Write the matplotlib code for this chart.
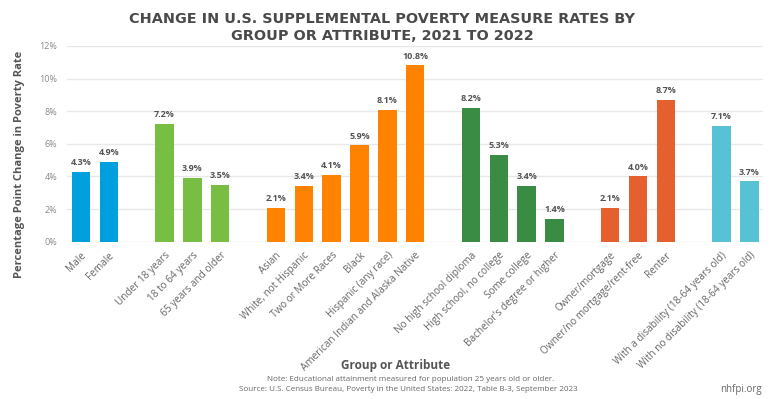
import matplotlib
matplotlib.use("Agg")
import matplotlib.pyplot as plt

categories = ["Male", "Female",
              "Under 18 years", "18 to 64 years", "65 years and older",
              "Asian", "White, not Hispanic", "Two or More Races", "Black",
              "Hispanic (any race)", "American Indian and Alaska Native",
              "No high school diploma", "High school, no college", "Some college",
              "Bachelor's degree or higher",
              "Owner/mortgage", "Owner/no mortgage/rent-free", "Renter",
              "With a disability (18-64 years old)", "With no disability (18-64 years old)"]
values = [4.3, 4.9, 7.2, 3.9, 3.5, 2.1, 3.4, 4.1, 5.9, 8.1, 10.8,
          8.2, 5.3, 3.4, 1.4, 2.1, 4.0, 8.7, 7.1, 3.7]
group_sizes = [2, 3, 6, 4, 3, 2]
group_colors = ["#00A0DF", "#78BE43", "#FF8300", "#3A8C45", "#E5602F", "#56C2D3"]
yticks = [0, 2, 4, 6, 8, 10, 12]

positions, colors = [], []
slot = 0
for size, col in zip(group_sizes, group_colors):
    for _ in range(size):
        positions.append(slot)
        colors.append(col)
        slot += 1
    slot += 1

fig = plt.figure(figsize=(7.71, 3.99), dpi=100)
ax = fig.add_axes([0.087, 0.394, 0.903, 0.491])
ax.bar(positions, values, width=0.66, color=colors, zorder=3)
for x, v in zip(positions, values):
    ax.annotate(f"{v:.1f}%", (x, v), xytext=(0, 3.5), textcoords="offset points",
                ha="center", va="bottom", fontsize=6.5, fontweight="bold",
                color="#555555", family="Open Sans")
ax.set_xlim(-0.5, 24.5)
ax.set_ylim(0, 12)
ax.set_yticks(yticks)
ax.set_yticklabels([f"{t}%" for t in yticks], fontsize=6.5, color="#888888", family="Open Sans")
ax.set_xticks(positions)
ax.set_xticklabels(categories, rotation=45, ha="right", rotation_mode="anchor",
                   fontsize=7.2, color="#666666", family="Open Sans")
ax.tick_params(axis="both", length=0)
ax.tick_params(axis="x", pad=6)
ax.tick_params(axis="y", pad=7)
ax.grid(axis="y", color="#E8E8E8", linewidth=1, zorder=0)
for s in ax.spines.values():
    s.set_visible(False)

fig.text(0.025, 0.589, "Percentage Point Change in Poverty Rate", rotation=90,
         ha="center", va="center", fontsize=8, fontweight="bold",
         color="#555555", family="Open Sans")
fig.text(0.496, 0.931, "CHANGE IN U.S. SUPPLEMENTAL POVERTY MEASURE RATES BY\nGROUP OR ATTRIBUTE, 2021 TO 2022",
         ha="center", va="center", fontsize=10.4, fontweight="bold", color="#4A4A4A",
         family="DejaVu Sans", linespacing=1.3)
fig.text(0.513, 0.083, "Group or Attribute", ha="center", va="center", fontsize=8.5,
         fontweight="bold", color="#555555", family="Open Sans")
fig.text(0.532, 0.048, "Note: Educational attainment measured for population 25 years old or older.",
         ha="center", va="center", fontsize=5.8, color="#666666", family="Open Sans")
fig.text(0.530, 0.025, "Source: U.S. Census Bureau, Poverty in the United States: 2022, Table B-3, September 2023",
         ha="center", va="center", fontsize=5.8, color="#666666", family="Open Sans")
fig.text(0.961, 0.025, "nhfpi.org", ha="center", va="center", fontsize=7, color="#666666",
         family="Open Sans")
fig.savefig("out.png", dpi=100)
